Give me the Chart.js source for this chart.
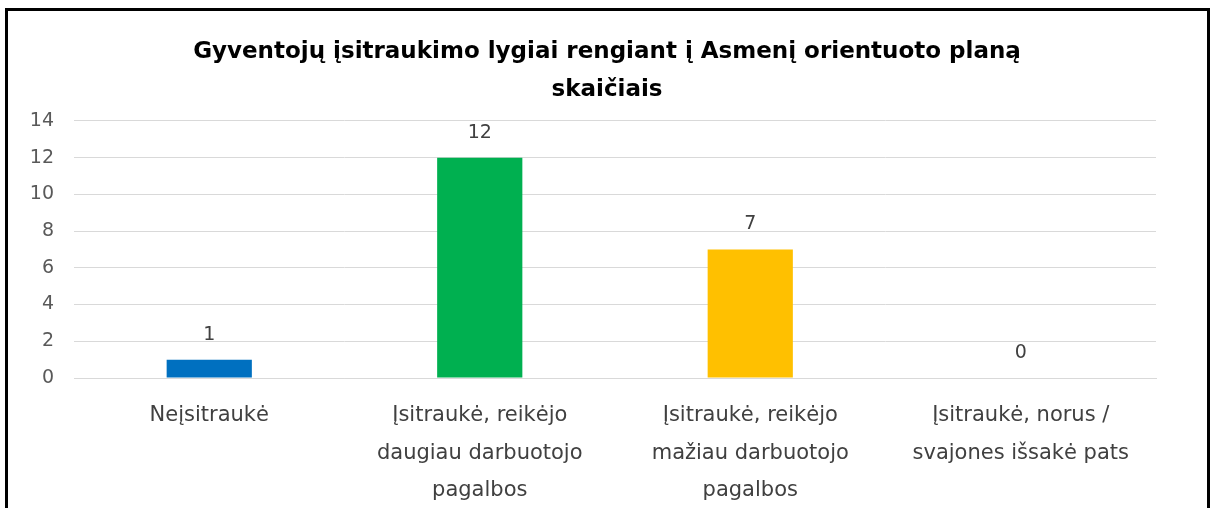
<!DOCTYPE html>
<html>
<head>
<meta charset="utf-8">
<script src="https://cdn.jsdelivr.net/npm/chart.js@4"></script>
<style>
  html, body { margin: 0; padding: 0; background: #fff; }
  #frame { position: absolute; left: 5px; top: 8px; width: 1199px; height: 600px; border: 3px solid #000; }
  #wrap { position: absolute; left: 0; top: 0; width: 1214px; height: 508px; }
</style>
</head>
<body>
<div id="frame"></div>
<div id="wrap"><canvas id="chart"></canvas></div>
<script>
const titleLines = ["Gyventojų įsitraukimo lygiai rengiant į Asmenį orientuoto planą", "skaičiais"];
const categories = [
  ["Neįsitraukė"],
  ["Įsitraukė, reikėjo", "daugiau darbuotojo", "pagalbos"],
  ["Įsitraukė, reikėjo", "mažiau darbuotojo", "pagalbos"],
  ["Įsitraukė, norus /", "svajones išsakė pats"]
];
const values = [1, 12, 7, 0];
const barColors = ["#0070C0", "#00B050", "#FFC000", "#A5A5A5"];
const yTicks = [0, 2, 4, 6, 8, 10, 12, 14];

const FONT = "'DejaVu Sans', 'Noto Sans', sans-serif";

// value labels above each bar
const valueLabels = {
  id: "valueLabels",
  afterDatasetsDraw(chart) {
    const ctx = chart.ctx;
    const meta = chart.getDatasetMeta(0);
    ctx.save();
    ctx.font = "19px " + FONT;
    ctx.fillStyle = "#404040";
    ctx.textAlign = "center";
    ctx.textBaseline = "middle";
    meta.data.forEach((bar, i) => {
      ctx.fillText(String(values[i]), bar.x, bar.y - 25);
    });
    ctx.restore();
  }
};

new Chart(document.getElementById("chart"), {
  type: "bar",
  data: {
    labels: categories,
    datasets: [{
      data: values,
      backgroundColor: barColors,
      barPercentage: 0.63,
      categoryPercentage: 0.5
    }]
  },
  options: {
    responsive: true,
    maintainAspectRatio: false,
    animation: false,
    layout: { padding: 0 },
    plugins: {
      legend: { display: false },
      tooltip: { enabled: false },
      title: {
        display: true,
        text: titleLines,
        color: "#000",
        font: { family: FONT, size: 23, weight: "bold", lineHeight: 1.65 },
        padding: { top: 33, bottom: 12 }
      }
    },
    scales: {
      x: {
        grid: { display: false, drawTicks: false },
        border: { color: "#d9d9d9", width: 1 },
        ticks: {
          color: "#404040",
          font: { family: FONT, size: 21, lineHeight: 1.78 },
          padding: 19,
          maxRotation: 0,
          autoSkip: false
        },
        afterFit(scale) { scale.height = 130; }
      },
      y: {
        min: 0,
        max: 14,
        afterBuildTicks(scale) { scale.ticks = yTicks.map(v => ({ value: v })); },
        grid: { color: "#d9d9d9", lineWidth: 1, drawTicks: false },
        border: { display: false },
        ticks: {
          color: "#595959",
          font: { family: FONT, size: 19 },
          padding: 20
        },
        afterFit(scale) { scale.width = 74; }
      },
      // empty right margin so the title stays centred on the whole frame
      yRight: {
        position: "right",
        min: 0,
        max: 14,
        grid: { display: false, drawTicks: false },
        border: { display: false },
        ticks: { display: false },
        afterFit(scale) { scale.width = 58; }
      }
    }
  },
  plugins: [valueLabels]
});
</script>
</body>
</html>
